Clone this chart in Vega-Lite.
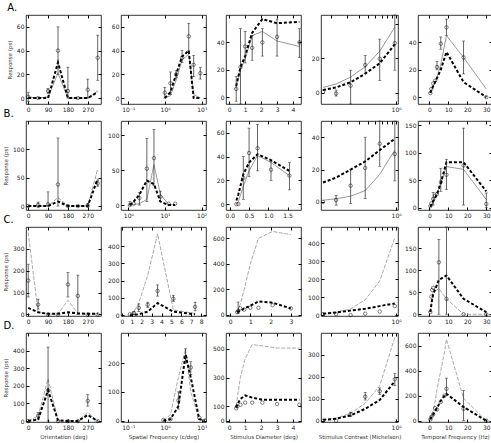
{
"$schema":"https://vega.github.io/schema/vega-lite/v6.json",
"padding":{"left":3,"top":2,"right":2,"bottom":3},
"config":{"font":"DejaVu Sans","view":{"stroke":"black","strokeWidth":0.8},
"axis":{"domain":false,"grid":false,"tickSize":-3,"tickColor":"black","labelFontSize":6,"labelColor":"#222","labelPadding":5,"labelFlush":false,"labelOverlap":false,"titleFontSize":5.5,"titleFontWeight":"normal","titleColor":"#333","titlePadding":4},
"title":{"fontSize":10,"fontWeight":"normal","anchor":"start","offset":2}},
"data":{"values":[
{"p":"A1","x":0,"obs":1,"lo":-3,"hi":5,"m1":1,"m2":0},
{"p":"A1","x":45,"obs":0,"m1":0,"m2":0},
{"p":"A1","x":90,"obs":6,"lo":4,"hi":8,"m1":1,"m2":0},
{"p":"A1","x":135,"obs":40,"lo":20,"hi":60,"m1":21,"m2":30},
{"p":"A1","x":180,"obs":6,"lo":0,"hi":26,"m1":0,"m2":0},
{"p":"A1","x":225,"obs":0,"m1":0,"m2":0},
{"p":"A1","x":270,"obs":7,"lo":0,"hi":16,"m1":0,"m2":0},
{"p":"A1","x":315,"obs":34,"lo":15,"hi":53,"m1":6,"m2":5},
{"p":"A2","x":0.98,"obs":4.5,"lo":0,"hi":9,"m1":0,"m2":0},
{"p":"A2","x":1.4,"obs":12.5,"lo":3,"hi":22,"m1":2,"m2":5},
{"p":"A2","x":2.0,"obs":20,"lo":17,"hi":23,"m1":15,"m2":20},
{"p":"A2","x":2.9,"obs":34,"lo":30,"hi":40,"m1":32,"m2":35},
{"p":"A2","x":4.4,"obs":52,"lo":40,"hi":63,"m1":37,"m2":40},
{"p":"A2","x":6.0,"obs":28,"lo":18,"hi":36,"m1":3,"m2":0},
{"p":"A2","x":9.1,"obs":21,"lo":16,"hi":26,"m1":0,"m2":0},
{"p":"A3","x":0.44,"obs":6,"lo":-3,"hi":15,"m1":8,"m2":8},
{"p":"A3","x":0.71,"obs":22,"lo":-5,"hi":50,"m1":20,"m2":22},
{"p":"A3","x":1.0,"obs":37,"lo":25,"hi":48,"m1":28,"m2":30},
{"p":"A3","x":1.44,"obs":36,"lo":27,"hi":45,"m1":45,"m2":47},
{"p":"A3","x":2.08,"obs":40,"lo":30,"hi":50,"m1":48,"m2":57},
{"p":"A3","x":3.0,"obs":44,"lo":30,"hi":57,"m1":41,"m2":54},
{"p":"A3","x":4.4,"obs":40,"lo":29,"hi":50,"m1":37,"m2":55},
{"p":"A4","x":0.166,"obs":0.5,"m1":3,"m2":1.5},
{"p":"A4","x":0.229,"obs":-0.5,"lo":-2,"hi":1.5,"m1":5,"m2":3},
{"p":"A4","x":0.327,"obs":4,"lo":-6.6,"hi":13,"m1":9,"m2":6},
{"p":"A4","x":0.468,"obs":16,"lo":11,"hi":21.5,"m1":15,"m2":11},
{"p":"A4","x":0.668,"obs":19.6,"lo":7,"hi":31,"m1":24,"m2":17},
{"p":"A4","x":0.968,"obs":28.7,"lo":13,"hi":45,"m1":38,"m2":28},
{"p":"A5","x":0.5,"obs":3,"m1":3,"m2":3},
{"p":"A5","x":1,"obs":6,"m1":5,"m2":5},
{"p":"A5","x":2,"obs":10,"m1":8,"m2":8},
{"p":"A5","x":3,"obs":12,"m1":11,"m2":11},
{"p":"A5","x":4,"obs":22,"lo":20,"hi":26,"m1":14,"m2":14},
{"p":"A5","x":6,"obs":39,"lo":35,"hi":44,"m1":24,"m2":20},
{"p":"A5","x":9,"obs":51,"lo":45,"hi":57,"m1":45,"m2":33},
{"p":"A5","x":18,"obs":29,"lo":17,"hi":41,"m1":29,"m2":11},
{"p":"A5","x":30,"obs":0,"m1":6,"m2":0},
{"p":"B1","x":0,"obs":0,"m1":0,"m2":0},
{"p":"B1","x":45,"obs":2,"lo":-3,"hi":7,"m1":0,"m2":0},
{"p":"B1","x":90,"obs":3,"lo":0,"hi":25,"m1":0,"m2":0},
{"p":"B1","x":135,"obs":38,"lo":0,"hi":120,"m1":15,"m2":8},
{"p":"B1","x":180,"obs":0,"m1":0,"m2":0},
{"p":"B1","x":225,"obs":0,"m1":0,"m2":0},
{"p":"B1","x":270,"obs":1,"lo":-2,"hi":5,"m1":0,"m2":0},
{"p":"B1","x":315,"obs":40,"lo":35,"hi":45,"m1":65,"m2":48},
{"p":"B2","x":1.1,"obs":0,"lo":0,"hi":5,"m1":0,"m2":0},
{"p":"B2","x":1.4,"obs":2,"m1":1,"m2":5},
{"p":"B2","x":2.0,"obs":10,"lo":0,"hi":18,"m1":2,"m2":15},
{"p":"B2","x":3.2,"obs":52,"lo":5,"hi":95,"m1":8,"m2":35},
{"p":"B2","x":5.0,"obs":67,"lo":28,"hi":108,"m1":58,"m2":30},
{"p":"B2","x":7.5,"obs":12,"lo":5,"hi":20,"m1":15,"m2":5},
{"p":"B2","x":12.6,"obs":2,"m1":1,"m2":0},
{"p":"B2","x":19,"obs":2,"m1":0,"m2":0},
{"p":"B3","x":0.17,"obs":0,"m1":0,"m2":3},
{"p":"B3","x":0.22,"obs":0,"m1":2,"m2":8},
{"p":"B3","x":0.35,"obs":22,"lo":4,"hi":40,"m1":15,"m2":25},
{"p":"B3","x":0.5,"obs":43,"lo":23,"hi":64,"m1":28,"m2":35},
{"p":"B3","x":0.72,"obs":47,"lo":28,"hi":67,"m1":41,"m2":42},
{"p":"B3","x":1.07,"obs":29,"lo":20,"hi":36,"m1":35,"m2":37},
{"p":"B3","x":1.55,"obs":24,"lo":12,"hi":35,"m1":24,"m2":28},
{"p":"B4","x":0.166,"obs":0,"m1":1,"m2":12},
{"p":"B4","x":0.229,"obs":1.2,"lo":-2,"hi":4,"m1":2,"m2":15},
{"p":"B4","x":0.327,"obs":10,"lo":-1,"hi":20,"m1":3.5,"m2":20},
{"p":"B4","x":0.468,"obs":21,"lo":2,"hi":40,"m1":7,"m2":25},
{"p":"B4","x":0.668,"obs":36,"lo":22,"hi":50,"m1":17,"m2":32},
{"p":"B4","x":0.968,"obs":29.6,"lo":13,"hi":50,"m1":32,"m2":39},
{"p":"B5","x":0.5,"obs":3,"m1":2,"m2":2},
{"p":"B5","x":1,"obs":8,"m1":5,"m2":5},
{"p":"B5","x":2,"obs":16,"lo":5,"hi":28,"m1":12,"m2":12},
{"p":"B5","x":3,"obs":22,"m1":18,"m2":18},
{"p":"B5","x":4,"obs":25,"m1":24,"m2":25},
{"p":"B5","x":6,"obs":47,"lo":30,"hi":72,"m1":45,"m2":45},
{"p":"B5","x":9,"obs":60,"lo":33,"hi":88,"m1":75,"m2":83},
{"p":"B5","x":18,"obs":77,"lo":5,"hi":145,"m1":70,"m2":83},
{"p":"B5","x":30,"obs":7,"lo":0,"hi":27,"m1":15,"m2":30},
{"p":"C1","x":0,"obs":155,"lo":80,"hi":230,"m1":375,"m2":30},
{"p":"C1","x":45,"obs":45,"lo":25,"hi":70,"m1":10,"m2":10},
{"p":"C1","x":90,"obs":0,"m1":2,"m2":3},
{"p":"C1","x":135,"obs":0,"m1":2,"m2":3},
{"p":"C1","x":180,"obs":137,"lo":80,"hi":192,"m1":65,"m2":10},
{"p":"C1","x":225,"obs":85,"lo":0,"hi":180,"m1":5,"m2":5},
{"p":"C1","x":270,"obs":0,"m1":3,"m2":3},
{"p":"C1","x":315,"obs":0,"m1":3,"m2":3},
{"p":"C2","x":0.8,"obs":5,"m1":5,"m2":0},
{"p":"C2","x":1.2,"obs":12,"lo":5,"hi":20,"m1":20,"m2":2},
{"p":"C2","x":1.7,"obs":42,"lo":20,"hi":65,"m1":70,"m2":5},
{"p":"C2","x":2.6,"obs":60,"lo":45,"hi":75,"m1":230,"m2":20},
{"p":"C2","x":3.6,"obs":140,"lo":110,"hi":175,"m1":470,"m2":70},
{"p":"C2","x":5.2,"obs":95,"lo":80,"hi":115,"m1":30,"m2":20},
{"p":"C2","x":7.4,"obs":48,"lo":25,"hi":75,"m1":10,"m2":5},
{"p":"C3","x":0.35,"obs":20,"m1":20,"m2":20},
{"p":"C3","x":0.4,"obs":30,"lo":10,"hi":100,"m1":40,"m2":25},
{"p":"C3","x":0.5,"obs":50,"m1":80,"m2":30},
{"p":"C3","x":0.7,"obs":40,"m1":200,"m2":50},
{"p":"C3","x":1.0,"obs":55,"m1":400,"m2":70},
{"p":"C3","x":1.4,"obs":55,"m1":600,"m2":105},
{"p":"C3","x":2.1,"obs":75,"m1":655,"m2":95},
{"p":"C3","x":3.0,"obs":50,"m1":630,"m2":50},
{"p":"C4","x":0.166,"obs":5,"m1":5,"m2":8},
{"p":"C4","x":0.229,"obs":5,"m1":15,"m2":15},
{"p":"C4","x":0.327,"obs":0,"m1":35,"m2":25},
{"p":"C4","x":0.468,"obs":8,"m1":85,"m2":35},
{"p":"C4","x":0.668,"obs":20,"m1":190,"m2":50},
{"p":"C4","x":0.968,"obs":50,"m1":430,"m2":65},
{"p":"C5","x":0.5,"obs":5,"m1":5,"m2":5},
{"p":"C5","x":1,"obs":40,"m1":25,"m2":20},
{"p":"C5","x":1.5,"obs":55,"m1":40,"m2":35},
{"p":"C5","x":2,"obs":60,"m1":50,"m2":45},
{"p":"C5","x":5,"obs":118,"lo":0,"hi":170,"m1":58,"m2":78},
{"p":"C5","x":9,"obs":35,"lo":0,"hi":198,"m1":35,"m2":88},
{"p":"C5","x":18,"obs":0,"m1":0,"m2":35},
{"p":"C5","x":30,"obs":0,"m1":0,"m2":5},
{"p":"D1","x":0,"obs":0,"m1":0,"m2":0},
{"p":"D1","x":45,"obs":30,"lo":10,"hi":50,"m1":30,"m2":10},
{"p":"D1","x":90,"obs":175,"lo":0,"hi":420,"m1":240,"m2":175},
{"p":"D1","x":135,"obs":0,"m1":5,"m2":5},
{"p":"D1","x":180,"obs":0,"m1":0,"m2":0},
{"p":"D1","x":225,"obs":0,"m1":0,"m2":0},
{"p":"D1","x":270,"obs":115,"lo":85,"hi":150,"m1":50,"m2":35},
{"p":"D1","x":315,"obs":0,"m1":0,"m2":0},
{"p":"D2","x":0.9,"obs":2,"m1":0,"m2":0},
{"p":"D2","x":1.4,"obs":5,"m1":20,"m2":5},
{"p":"D2","x":2.3,"obs":70,"lo":40,"hi":100,"m1":150,"m2":50},
{"p":"D2","x":3.6,"obs":220,"lo":200,"hi":250,"m1":250,"m2":230},
{"p":"D2","x":5.0,"obs":185,"lo":160,"hi":205,"m1":100,"m2":150},
{"p":"D2","x":8.5,"obs":10,"m1":5,"m2":5},
{"p":"D2","x":12,"obs":0,"m1":0,"m2":0},
{"p":"D3","x":0.44,"obs":85,"m1":100,"m2":90},
{"p":"D3","x":0.5,"obs":100,"m1":150,"m2":110},
{"p":"D3","x":0.7,"obs":110,"m1":300,"m2":150},
{"p":"D3","x":1.0,"obs":125,"m1":430,"m2":175},
{"p":"D3","x":1.44,"obs":125,"m1":530,"m2":160},
{"p":"D3","x":2.08,"obs":125,"m1":520,"m2":145},
{"p":"D3","x":3.0,"obs":115,"m1":505,"m2":145},
{"p":"D3","x":4.4,"obs":110,"m1":505,"m2":145},
{"p":"D4","x":0.166,"obs":0,"m1":5,"m2":5},
{"p":"D4","x":0.229,"obs":0,"m1":12,"m2":10},
{"p":"D4","x":0.327,"obs":30,"lo":20,"hi":40,"m1":35,"m2":25},
{"p":"D4","x":0.468,"obs":110,"lo":95,"hi":130,"m1":80,"m2":55},
{"p":"D4","x":0.668,"obs":135,"lo":120,"hi":150,"m1":160,"m2":95},
{"p":"D4","x":0.968,"obs":190,"lo":160,"hi":215,"m1":380,"m2":180},
{"p":"D5","x":0.5,"obs":10,"m1":10,"m2":10},
{"p":"D5","x":1,"obs":30,"m1":30,"m2":30},
{"p":"D5","x":2,"obs":50,"m1":80,"m2":50},
{"p":"D5","x":3,"obs":100,"m1":150,"m2":75},
{"p":"D5","x":4,"obs":90,"m1":250,"m2":100},
{"p":"D5","x":6,"obs":150,"m1":400,"m2":160},
{"p":"D5","x":8,"obs":200,"m1":550,"m2":200},
{"p":"D5","x":9,"obs":255,"lo":200,"hi":340,"m1":650,"m2":215},
{"p":"D5","x":18,"obs":95,"lo":0,"hi":240,"m1":180,"m2":110},
{"p":"D5","x":30,"obs":0,"m1":0,"m2":0}
]},
"columns":5,
"bounds":"flush",
"align":"each",
"spacing":{"row":17,"column":20},
"concat":[
{"title":{"text":"A."},"width":75,"height":89,"transform":[{"filter":"datum.p==='A1'"}],"resolve":{"axis":{"x":"independent","y":"independent"}},
"encoding":{"x":{"field":"x","type":"quantitative","scale":{"domain":[-10,330],"nice":false,"zero":false},"axis":null}},
"layer":[
{"mark":{"type":"line","color":"#9a9a9a","strokeWidth":1},"encoding":{"x":{"field":"x","type":"quantitative","axis":{"values":[0,90,180,270],"title":null}},"y":{"field":"m1","type":"quantitative","scale":{"domain":[-5,70],"nice":false,"zero":false},"axis":{"values":[0,20,40,60],"title":"Response (ps)"}}}},
{"mark":{"type":"line","color":"black","strokeWidth":2,"strokeDash":[3,2]},"encoding":{"x":{"field":"x","type":"quantitative","axis":{"orient":"top","values":[0,90,180,270],"labels":false,"title":null}},"y":{"field":"m2","type":"quantitative","axis":{"orient":"right","values":[0,20,40,60],"labels":false,"title":null}}}},
{"transform":[{"filter":"isValid(datum.lo)"}],"layer":[
{"mark":{"type":"rule","color":"#222","strokeWidth":0.7},"encoding":{"y":{"field":"lo","type":"quantitative","axis":null},"y2":{"field":"hi"}}},
{"mark":{"type":"tick","orient":"horizontal","color":"#222","size":3,"thickness":0.7},"encoding":{"y":{"field":"lo","type":"quantitative","axis":null}}},
{"mark":{"type":"tick","orient":"horizontal","color":"#222","size":3,"thickness":0.7},"encoding":{"y":{"field":"hi","type":"quantitative","axis":null}}}]},
{"mark":{"type":"point","shape":"circle","filled":false,"size":12,"color":"black","strokeWidth":0.7},"encoding":{"y":{"field":"obs","type":"quantitative","axis":null}}}]},
{"width":85,"height":89,"transform":[{"filter":"datum.p==='A2'"}],"resolve":{"axis":{"x":"independent","y":"independent"}},
"encoding":{"x":{"field":"x","type":"quantitative","scale":{"type":"log","domain":[0.063,13],"nice":false},"axis":null}},
"layer":[
{"mark":{"type":"line","color":"#9a9a9a","strokeWidth":1},"encoding":{"x":{"field":"x","type":"quantitative","axis":{"values":[0.1,1,10],"title":null,"labelExpr":"'10' + replace(replace(replace(replace('' + round(log(datum.value)/LN10), '-', '⁻'), '0', '⁰'), '1', '¹'), '2', '²')"}},"y":{"field":"m1","type":"quantitative","scale":{"domain":[-5,70],"nice":false,"zero":false},"axis":{"values":[0,20,40,60],"title":null}}}},
{"mark":{"type":"line","color":"black","strokeWidth":2,"strokeDash":[3,2]},"encoding":{"x":{"field":"x","type":"quantitative","axis":{"orient":"top","values":[0.1,1,10],"labels":false,"title":null}},"y":{"field":"m2","type":"quantitative","axis":{"orient":"right","values":[0,20,40,60],"labels":false,"title":null}}}},
{"transform":[{"filter":"isValid(datum.lo)"}],"layer":[
{"mark":{"type":"rule","color":"#222","strokeWidth":0.7},"encoding":{"y":{"field":"lo","type":"quantitative","axis":null},"y2":{"field":"hi"}}},
{"mark":{"type":"tick","orient":"horizontal","color":"#222","size":3,"thickness":0.7},"encoding":{"y":{"field":"lo","type":"quantitative","axis":null}}},
{"mark":{"type":"tick","orient":"horizontal","color":"#222","size":3,"thickness":0.7},"encoding":{"y":{"field":"hi","type":"quantitative","axis":null}}}]},
{"mark":{"type":"point","shape":"circle","filled":false,"size":12,"color":"black","strokeWidth":0.7},"encoding":{"y":{"field":"obs","type":"quantitative","axis":null}}}]},
{"width":75,"height":89,"transform":[{"filter":"datum.p==='A3'"}],"resolve":{"axis":{"x":"independent","y":"independent"}},
"encoding":{"x":{"field":"x","type":"quantitative","scale":{"domain":[-0.2,4.5],"nice":false,"zero":false},"axis":null}},
"layer":[
{"mark":{"type":"line","color":"#9a9a9a","strokeWidth":1},"encoding":{"x":{"field":"x","type":"quantitative","axis":{"values":[0,1,2,3,4],"title":null}},"y":{"field":"m1","type":"quantitative","scale":{"domain":[-5,60],"nice":false,"zero":false},"axis":{"values":[0,20,40],"title":null}}}},
{"mark":{"type":"line","color":"black","strokeWidth":2,"strokeDash":[3,2]},"encoding":{"x":{"field":"x","type":"quantitative","axis":{"orient":"top","values":[0,1,2,3,4],"labels":false,"title":null}},"y":{"field":"m2","type":"quantitative","axis":{"orient":"right","values":[0,20,40],"labels":false,"title":null}}}},
{"transform":[{"filter":"isValid(datum.lo)"}],"layer":[
{"mark":{"type":"rule","color":"#222","strokeWidth":0.7},"encoding":{"y":{"field":"lo","type":"quantitative","axis":null},"y2":{"field":"hi"}}},
{"mark":{"type":"tick","orient":"horizontal","color":"#222","size":3,"thickness":0.7},"encoding":{"y":{"field":"lo","type":"quantitative","axis":null}}},
{"mark":{"type":"tick","orient":"horizontal","color":"#222","size":3,"thickness":0.7},"encoding":{"y":{"field":"hi","type":"quantitative","axis":null}}}]},
{"mark":{"type":"point","shape":"circle","filled":false,"size":12,"color":"black","strokeWidth":0.7},"encoding":{"y":{"field":"obs","type":"quantitative","axis":null}}}]},
{"width":77,"height":89,"transform":[{"filter":"datum.p==='A4'"}],"resolve":{"axis":{"x":"independent","y":"independent"}},
"encoding":{"x":{"field":"x","type":"quantitative","scale":{"type":"log","domain":[0.158,1.047],"nice":false},"axis":null}},
"layer":[
{"mark":{"type":"line","color":"#9a9a9a","strokeWidth":1},"encoding":{"x":{"field":"x","type":"quantitative","axis":{"values":[1],"title":null,"labelExpr":"'10⁰'"}},"y":{"field":"m1","type":"quantitative","scale":{"domain":[-6.6,45],"nice":false,"zero":false},"axis":{"values":[0,20],"title":null}}}},
{"mark":{"type":"line","color":"black","strokeWidth":2,"strokeDash":[3,2]},"encoding":{"x":{"field":"x","type":"quantitative","axis":{"orient":"top","values":[0.2,0.3,0.4,0.5,0.6,0.7,0.8,0.9,1],"labels":false,"title":null}},"y":{"field":"m2","type":"quantitative","axis":{"orient":"right","values":[0,20,40],"labels":false,"title":null}}}},
{"transform":[{"filter":"isValid(datum.lo)"}],"layer":[
{"mark":{"type":"rule","color":"#222","strokeWidth":0.7},"encoding":{"y":{"field":"lo","type":"quantitative","axis":null},"y2":{"field":"hi"}}},
{"mark":{"type":"tick","orient":"horizontal","color":"#222","size":3,"thickness":0.7},"encoding":{"y":{"field":"lo","type":"quantitative","axis":null}}},
{"mark":{"type":"tick","orient":"horizontal","color":"#222","size":3,"thickness":0.7},"encoding":{"y":{"field":"hi","type":"quantitative","axis":null}}}]},
{"mark":{"type":"point","shape":"circle","filled":false,"size":12,"color":"black","strokeWidth":0.7},"encoding":{"y":{"field":"obs","type":"quantitative","axis":null}}}]},
{"width":74,"height":89,"transform":[{"filter":"datum.p==='A5'"}],"resolve":{"axis":{"x":"independent","y":"independent"}},
"encoding":{"x":{"field":"x","type":"quantitative","scale":{"domain":[-6,33],"nice":false,"zero":false},"axis":null}},
"layer":[
{"mark":{"type":"line","color":"#9a9a9a","strokeWidth":1},"encoding":{"x":{"field":"x","type":"quantitative","axis":{"values":[0,10,20,30],"title":null}},"y":{"field":"m1","type":"quantitative","scale":{"domain":[-5,60],"nice":false,"zero":false},"axis":{"values":[0,20,40],"title":null}}}},
{"mark":{"type":"line","color":"black","strokeWidth":2,"strokeDash":[3,2]},"encoding":{"x":{"field":"x","type":"quantitative","axis":{"orient":"top","values":[0,10,20,30],"labels":false,"title":null}},"y":{"field":"m2","type":"quantitative","axis":{"orient":"right","values":[0,20,40],"labels":false,"title":null}}}},
{"transform":[{"filter":"isValid(datum.lo)"}],"layer":[
{"mark":{"type":"rule","color":"#222","strokeWidth":0.7},"encoding":{"y":{"field":"lo","type":"quantitative","axis":null},"y2":{"field":"hi"}}},
{"mark":{"type":"tick","orient":"horizontal","color":"#222","size":3,"thickness":0.7},"encoding":{"y":{"field":"lo","type":"quantitative","axis":null}}},
{"mark":{"type":"tick","orient":"horizontal","color":"#222","size":3,"thickness":0.7},"encoding":{"y":{"field":"hi","type":"quantitative","axis":null}}}]},
{"mark":{"type":"point","shape":"circle","filled":false,"size":12,"color":"black","strokeWidth":0.7},"encoding":{"y":{"field":"obs","type":"quantitative","axis":null}}}]},

{"title":{"text":"B."},"width":75,"height":89,"transform":[{"filter":"datum.p==='B1'"}],"resolve":{"axis":{"x":"independent","y":"independent"}},
"encoding":{"x":{"field":"x","type":"quantitative","scale":{"domain":[-10,330],"nice":false,"zero":false},"axis":null}},
"layer":[
{"mark":{"type":"line","color":"#9a9a9a","strokeWidth":1,"strokeDash":[4,1.5]},"encoding":{"x":{"field":"x","type":"quantitative","axis":{"values":[0,90,180,270],"title":null}},"y":{"field":"m1","type":"quantitative","scale":{"domain":[-7,150],"nice":false,"zero":false},"axis":{"values":[0,50,100],"title":"Response (ps)"}}}},
{"mark":{"type":"line","color":"black","strokeWidth":2,"strokeDash":[3,2]},"encoding":{"x":{"field":"x","type":"quantitative","axis":{"orient":"top","values":[0,90,180,270],"labels":false,"title":null}},"y":{"field":"m2","type":"quantitative","axis":{"orient":"right","values":[0,50,100],"labels":false,"title":null}}}},
{"transform":[{"filter":"isValid(datum.lo)"}],"layer":[
{"mark":{"type":"rule","color":"#222","strokeWidth":0.7},"encoding":{"y":{"field":"lo","type":"quantitative","axis":null},"y2":{"field":"hi"}}},
{"mark":{"type":"tick","orient":"horizontal","color":"#222","size":3,"thickness":0.7},"encoding":{"y":{"field":"lo","type":"quantitative","axis":null}}},
{"mark":{"type":"tick","orient":"horizontal","color":"#222","size":3,"thickness":0.7},"encoding":{"y":{"field":"hi","type":"quantitative","axis":null}}}]},
{"mark":{"type":"point","shape":"circle","filled":false,"size":12,"color":"black","strokeWidth":0.7},"encoding":{"y":{"field":"obs","type":"quantitative","axis":null}}}]},
{"width":85,"height":89,"transform":[{"filter":"datum.p==='B2'"}],"resolve":{"axis":{"x":"independent","y":"independent"}},
"encoding":{"x":{"field":"x","type":"quantitative","scale":{"type":"log","domain":[0.63,132],"nice":false},"axis":null}},
"layer":[
{"mark":{"type":"line","color":"#9a9a9a","strokeWidth":1},"encoding":{"x":{"field":"x","type":"quantitative","axis":{"values":[1,10,100],"title":null,"labelExpr":"'10' + replace(replace(replace(replace('' + round(log(datum.value)/LN10), '-', '⁻'), '0', '⁰'), '1', '¹'), '2', '²')"}},"y":{"field":"m1","type":"quantitative","scale":{"domain":[-7,120],"nice":false,"zero":false},"axis":{"values":[0,50,100],"title":null}}}},
{"mark":{"type":"line","color":"black","strokeWidth":2,"strokeDash":[3,2]},"encoding":{"x":{"field":"x","type":"quantitative","axis":{"orient":"top","values":[1,10,100],"labels":false,"title":null}},"y":{"field":"m2","type":"quantitative","axis":{"orient":"right","values":[0,50,100],"labels":false,"title":null}}}},
{"transform":[{"filter":"isValid(datum.lo)"}],"layer":[
{"mark":{"type":"rule","color":"#222","strokeWidth":0.7},"encoding":{"y":{"field":"lo","type":"quantitative","axis":null},"y2":{"field":"hi"}}},
{"mark":{"type":"tick","orient":"horizontal","color":"#222","size":3,"thickness":0.7},"encoding":{"y":{"field":"lo","type":"quantitative","axis":null}}},
{"mark":{"type":"tick","orient":"horizontal","color":"#222","size":3,"thickness":0.7},"encoding":{"y":{"field":"hi","type":"quantitative","axis":null}}}]},
{"mark":{"type":"point","shape":"circle","filled":false,"size":12,"color":"black","strokeWidth":0.7},"encoding":{"y":{"field":"obs","type":"quantitative","axis":null}}}]},
{"width":75,"height":89,"transform":[{"filter":"datum.p==='B3'"}],"resolve":{"axis":{"x":"independent","y":"independent"}},
"encoding":{"x":{"field":"x","type":"quantitative","scale":{"domain":[-0.1,1.85],"nice":false,"zero":false},"axis":null}},
"layer":[
{"mark":{"type":"line","color":"#9a9a9a","strokeWidth":1},"encoding":{"x":{"field":"x","type":"quantitative","axis":{"values":[0,0.5,1,1.5],"format":".1f","title":null}},"y":{"field":"m1","type":"quantitative","scale":{"domain":[-5,70],"nice":false,"zero":false},"axis":{"values":[0,20,40,60],"title":null}}}},
{"mark":{"type":"line","color":"black","strokeWidth":2,"strokeDash":[3,2]},"encoding":{"x":{"field":"x","type":"quantitative","axis":{"orient":"top","values":[0,0.5,1,1.5],"labels":false,"title":null}},"y":{"field":"m2","type":"quantitative","axis":{"orient":"right","values":[0,20,40,60],"labels":false,"title":null}}}},
{"transform":[{"filter":"isValid(datum.lo)"}],"layer":[
{"mark":{"type":"rule","color":"#222","strokeWidth":0.7},"encoding":{"y":{"field":"lo","type":"quantitative","axis":null},"y2":{"field":"hi"}}},
{"mark":{"type":"tick","orient":"horizontal","color":"#222","size":3,"thickness":0.7},"encoding":{"y":{"field":"lo","type":"quantitative","axis":null}}},
{"mark":{"type":"tick","orient":"horizontal","color":"#222","size":3,"thickness":0.7},"encoding":{"y":{"field":"hi","type":"quantitative","axis":null}}}]},
{"mark":{"type":"point","shape":"circle","filled":false,"size":12,"color":"black","strokeWidth":0.7},"encoding":{"y":{"field":"obs","type":"quantitative","axis":null}}}]},
{"width":77,"height":89,"transform":[{"filter":"datum.p==='B4'"}],"resolve":{"axis":{"x":"independent","y":"independent"}},
"encoding":{"x":{"field":"x","type":"quantitative","scale":{"type":"log","domain":[0.158,1.047],"nice":false},"axis":null}},
"layer":[
{"mark":{"type":"line","color":"#9a9a9a","strokeWidth":1},"encoding":{"x":{"field":"x","type":"quantitative","axis":{"values":[1],"title":null,"labelExpr":"'10⁰'"}},"y":{"field":"m1","type":"quantitative","scale":{"domain":[-5,50],"nice":false,"zero":false},"axis":{"values":[0,20,40],"title":null}}}},
{"mark":{"type":"line","color":"black","strokeWidth":2,"strokeDash":[3,2]},"encoding":{"x":{"field":"x","type":"quantitative","axis":{"orient":"top","values":[0.2,0.3,0.4,0.5,0.6,0.7,0.8,0.9,1],"labels":false,"title":null}},"y":{"field":"m2","type":"quantitative","axis":{"orient":"right","values":[0,20,40],"labels":false,"title":null}}}},
{"transform":[{"filter":"isValid(datum.lo)"}],"layer":[
{"mark":{"type":"rule","color":"#222","strokeWidth":0.7},"encoding":{"y":{"field":"lo","type":"quantitative","axis":null},"y2":{"field":"hi"}}},
{"mark":{"type":"tick","orient":"horizontal","color":"#222","size":3,"thickness":0.7},"encoding":{"y":{"field":"lo","type":"quantitative","axis":null}}},
{"mark":{"type":"tick","orient":"horizontal","color":"#222","size":3,"thickness":0.7},"encoding":{"y":{"field":"hi","type":"quantitative","axis":null}}}]},
{"mark":{"type":"point","shape":"circle","filled":false,"size":12,"color":"black","strokeWidth":0.7},"encoding":{"y":{"field":"obs","type":"quantitative","axis":null}}}]},
{"width":74,"height":89,"transform":[{"filter":"datum.p==='B5'"}],"resolve":{"axis":{"x":"independent","y":"independent"}},
"encoding":{"x":{"field":"x","type":"quantitative","scale":{"domain":[-6,33],"nice":false,"zero":false},"axis":null}},
"layer":[
{"mark":{"type":"line","color":"#9a9a9a","strokeWidth":1},"encoding":{"x":{"field":"x","type":"quantitative","axis":{"values":[0,10,20,30],"title":null}},"y":{"field":"m1","type":"quantitative","scale":{"domain":[-4,158],"nice":false,"zero":false},"axis":{"values":[0,50,100,150],"title":null}}}},
{"mark":{"type":"line","color":"black","strokeWidth":2,"strokeDash":[3,2]},"encoding":{"x":{"field":"x","type":"quantitative","axis":{"orient":"top","values":[0,10,20,30],"labels":false,"title":null}},"y":{"field":"m2","type":"quantitative","axis":{"orient":"right","values":[0,50,100,150],"labels":false,"title":null}}}},
{"transform":[{"filter":"isValid(datum.lo)"}],"layer":[
{"mark":{"type":"rule","color":"#222","strokeWidth":0.7},"encoding":{"y":{"field":"lo","type":"quantitative","axis":null},"y2":{"field":"hi"}}},
{"mark":{"type":"tick","orient":"horizontal","color":"#222","size":3,"thickness":0.7},"encoding":{"y":{"field":"lo","type":"quantitative","axis":null}}},
{"mark":{"type":"tick","orient":"horizontal","color":"#222","size":3,"thickness":0.7},"encoding":{"y":{"field":"hi","type":"quantitative","axis":null}}}]},
{"mark":{"type":"point","shape":"circle","filled":false,"size":12,"color":"black","strokeWidth":0.7},"encoding":{"y":{"field":"obs","type":"quantitative","axis":null}}}]},

{"title":{"text":"C."},"width":75,"height":89,"transform":[{"filter":"datum.p==='C1'"}],"resolve":{"axis":{"x":"independent","y":"independent"}},
"encoding":{"x":{"field":"x","type":"quantitative","scale":{"domain":[-10,330],"nice":false,"zero":false},"axis":null}},
"layer":[
{"mark":{"type":"line","color":"#aaaaaa","strokeWidth":1,"strokeDash":[4,1.5]},"encoding":{"x":{"field":"x","type":"quantitative","axis":{"values":[0,90,180,270],"title":null}},"y":{"field":"m1","type":"quantitative","scale":{"domain":[-7,400],"nice":false,"zero":false},"axis":{"values":[0,100,200,300],"title":"Response (ps)"}}}},
{"mark":{"type":"line","color":"black","strokeWidth":2,"strokeDash":[3,2]},"encoding":{"x":{"field":"x","type":"quantitative","axis":{"orient":"top","values":[0,90,180,270],"labels":false,"title":null}},"y":{"field":"m2","type":"quantitative","axis":{"orient":"right","values":[0,100,200,300],"labels":false,"title":null}}}},
{"transform":[{"filter":"isValid(datum.lo)"}],"layer":[
{"mark":{"type":"rule","color":"#222","strokeWidth":0.7},"encoding":{"y":{"field":"lo","type":"quantitative","axis":null},"y2":{"field":"hi"}}},
{"mark":{"type":"tick","orient":"horizontal","color":"#222","size":3,"thickness":0.7},"encoding":{"y":{"field":"lo","type":"quantitative","axis":null}}},
{"mark":{"type":"tick","orient":"horizontal","color":"#222","size":3,"thickness":0.7},"encoding":{"y":{"field":"hi","type":"quantitative","axis":null}}}]},
{"mark":{"type":"point","shape":"circle","filled":false,"size":12,"color":"black","strokeWidth":0.7},"encoding":{"y":{"field":"obs","type":"quantitative","axis":null}}}]},
{"width":85,"height":89,"transform":[{"filter":"datum.p==='C2'"}],"resolve":{"axis":{"x":"independent","y":"independent"}},
"encoding":{"x":{"field":"x","type":"quantitative","scale":{"domain":[-0.1,8.5],"nice":false,"zero":false},"axis":null}},
"layer":[
{"mark":{"type":"line","color":"#aaaaaa","strokeWidth":1,"strokeDash":[4,1.5]},"encoding":{"x":{"field":"x","type":"quantitative","axis":{"values":[0,1,2,3,4,5,6,7,8],"title":null}},"y":{"field":"m1","type":"quantitative","scale":{"domain":[-5,510],"nice":false,"zero":false},"axis":{"values":[0,100,200,300,400],"title":null}}}},
{"mark":{"type":"line","color":"black","strokeWidth":2,"strokeDash":[3,2]},"encoding":{"x":{"field":"x","type":"quantitative","axis":{"orient":"top","values":[0,1,2,3,4,5,6,7,8],"labels":false,"title":null}},"y":{"field":"m2","type":"quantitative","axis":{"orient":"right","values":[0,100,200,300,400],"labels":false,"title":null}}}},
{"transform":[{"filter":"isValid(datum.lo)"}],"layer":[
{"mark":{"type":"rule","color":"#222","strokeWidth":0.7},"encoding":{"y":{"field":"lo","type":"quantitative","axis":null},"y2":{"field":"hi"}}},
{"mark":{"type":"tick","orient":"horizontal","color":"#222","size":3,"thickness":0.7},"encoding":{"y":{"field":"lo","type":"quantitative","axis":null}}},
{"mark":{"type":"tick","orient":"horizontal","color":"#222","size":3,"thickness":0.7},"encoding":{"y":{"field":"hi","type":"quantitative","axis":null}}}]},
{"mark":{"type":"point","shape":"circle","filled":false,"size":12,"color":"black","strokeWidth":0.7},"encoding":{"y":{"field":"obs","type":"quantitative","axis":null}}}]},
{"width":75,"height":89,"transform":[{"filter":"datum.p==='C3'"}],"resolve":{"axis":{"x":"independent","y":"independent"}},
"encoding":{"x":{"field":"x","type":"quantitative","scale":{"domain":[-0.2,3.5],"nice":false,"zero":false},"axis":null}},
"layer":[
{"mark":{"type":"line","color":"#aaaaaa","strokeWidth":1,"strokeDash":[4,1.5]},"encoding":{"x":{"field":"x","type":"quantitative","axis":{"values":[0,1,2,3],"title":null}},"y":{"field":"m1","type":"quantitative","scale":{"domain":[-10,690],"nice":false,"zero":false},"axis":{"values":[0,200,400,600],"title":null}}}},
{"mark":{"type":"line","color":"black","strokeWidth":2,"strokeDash":[3,2]},"encoding":{"x":{"field":"x","type":"quantitative","axis":{"orient":"top","values":[0,1,2,3],"labels":false,"title":null}},"y":{"field":"m2","type":"quantitative","axis":{"orient":"right","values":[0,200,400,600],"labels":false,"title":null}}}},
{"transform":[{"filter":"isValid(datum.lo)"}],"layer":[
{"mark":{"type":"rule","color":"#222","strokeWidth":0.7},"encoding":{"y":{"field":"lo","type":"quantitative","axis":null},"y2":{"field":"hi"}}},
{"mark":{"type":"tick","orient":"horizontal","color":"#222","size":3,"thickness":0.7},"encoding":{"y":{"field":"lo","type":"quantitative","axis":null}}},
{"mark":{"type":"tick","orient":"horizontal","color":"#222","size":3,"thickness":0.7},"encoding":{"y":{"field":"hi","type":"quantitative","axis":null}}}]},
{"mark":{"type":"point","shape":"circle","filled":false,"size":12,"color":"black","strokeWidth":0.7},"encoding":{"y":{"field":"obs","type":"quantitative","axis":null}}}]},
{"width":77,"height":89,"transform":[{"filter":"datum.p==='C4'"}],"resolve":{"axis":{"x":"independent","y":"independent"}},
"encoding":{"x":{"field":"x","type":"quantitative","scale":{"type":"log","domain":[0.158,1.047],"nice":false},"axis":null}},
"layer":[
{"mark":{"type":"line","color":"#aaaaaa","strokeWidth":1,"strokeDash":[4,1.5]},"encoding":{"x":{"field":"x","type":"quantitative","axis":{"values":[1],"title":null,"labelExpr":"'10⁰'"}},"y":{"field":"m1","type":"quantitative","scale":{"domain":[-5,490],"nice":false,"zero":false},"axis":{"values":[0,100,200,300,400],"title":null}}}},
{"mark":{"type":"line","color":"black","strokeWidth":2,"strokeDash":[3,2]},"encoding":{"x":{"field":"x","type":"quantitative","axis":{"orient":"top","values":[0.2,0.3,0.4,0.5,0.6,0.7,0.8,0.9,1],"labels":false,"title":null}},"y":{"field":"m2","type":"quantitative","axis":{"orient":"right","values":[0,100,200,300,400],"labels":false,"title":null}}}},
{"transform":[{"filter":"isValid(datum.lo)"}],"layer":[
{"mark":{"type":"rule","color":"#222","strokeWidth":0.7},"encoding":{"y":{"field":"lo","type":"quantitative","axis":null},"y2":{"field":"hi"}}},
{"mark":{"type":"tick","orient":"horizontal","color":"#222","size":3,"thickness":0.7},"encoding":{"y":{"field":"lo","type":"quantitative","axis":null}}},
{"mark":{"type":"tick","orient":"horizontal","color":"#222","size":3,"thickness":0.7},"encoding":{"y":{"field":"hi","type":"quantitative","axis":null}}}]},
{"mark":{"type":"point","shape":"circle","filled":false,"size":12,"color":"black","strokeWidth":0.7},"encoding":{"y":{"field":"obs","type":"quantitative","axis":null}}}]},
{"width":74,"height":89,"transform":[{"filter":"datum.p==='C5'"}],"resolve":{"axis":{"x":"independent","y":"independent"}},
"encoding":{"x":{"field":"x","type":"quantitative","scale":{"domain":[-6,33],"nice":false,"zero":false},"axis":null}},
"layer":[
{"mark":{"type":"line","color":"#aaaaaa","strokeWidth":1,"strokeDash":[4,1.5]},"encoding":{"x":{"field":"x","type":"quantitative","axis":{"values":[0,10,20,30],"title":null}},"y":{"field":"m1","type":"quantitative","scale":{"domain":[-4,198],"nice":false,"zero":false},"axis":{"values":[0,50,100,150],"title":null}}}},
{"mark":{"type":"line","color":"black","strokeWidth":2,"strokeDash":[3,2]},"encoding":{"x":{"field":"x","type":"quantitative","axis":{"orient":"top","values":[0,10,20,30],"labels":false,"title":null}},"y":{"field":"m2","type":"quantitative","axis":{"orient":"right","values":[0,50,100,150],"labels":false,"title":null}}}},
{"transform":[{"filter":"isValid(datum.lo)"}],"layer":[
{"mark":{"type":"rule","color":"#222","strokeWidth":0.7},"encoding":{"y":{"field":"lo","type":"quantitative","axis":null},"y2":{"field":"hi"}}},
{"mark":{"type":"tick","orient":"horizontal","color":"#222","size":3,"thickness":0.7},"encoding":{"y":{"field":"lo","type":"quantitative","axis":null}}},
{"mark":{"type":"tick","orient":"horizontal","color":"#222","size":3,"thickness":0.7},"encoding":{"y":{"field":"hi","type":"quantitative","axis":null}}}]},
{"mark":{"type":"point","shape":"circle","filled":false,"size":12,"color":"black","strokeWidth":0.7},"encoding":{"y":{"field":"obs","type":"quantitative","axis":null}}}]},

{"title":{"text":"D."},"width":75,"height":89,"transform":[{"filter":"datum.p==='D1'"}],"resolve":{"axis":{"x":"independent","y":"independent"}},
"encoding":{"x":{"field":"x","type":"quantitative","scale":{"domain":[-10,330],"nice":false,"zero":false},"axis":null}},
"layer":[
{"mark":{"type":"line","color":"#aaaaaa","strokeWidth":1,"strokeDash":[4,1.5]},"encoding":{"x":{"field":"x","type":"quantitative","axis":{"values":[0,90,180,270],"title":"Orientation (deg)"}},"y":{"field":"m1","type":"quantitative","scale":{"domain":[-5,500],"nice":false,"zero":false},"axis":{"values":[0,100,200,300,400],"title":"Response (ps)"}}}},
{"mark":{"type":"line","color":"black","strokeWidth":2,"strokeDash":[3,2]},"encoding":{"x":{"field":"x","type":"quantitative","axis":{"orient":"top","values":[0,90,180,270],"labels":false,"title":null}},"y":{"field":"m2","type":"quantitative","axis":{"orient":"right","values":[0,100,200,300,400],"labels":false,"title":null}}}},
{"transform":[{"filter":"isValid(datum.lo)"}],"layer":[
{"mark":{"type":"rule","color":"#222","strokeWidth":0.7},"encoding":{"y":{"field":"lo","type":"quantitative","axis":null},"y2":{"field":"hi"}}},
{"mark":{"type":"tick","orient":"horizontal","color":"#222","size":3,"thickness":0.7},"encoding":{"y":{"field":"lo","type":"quantitative","axis":null}}},
{"mark":{"type":"tick","orient":"horizontal","color":"#222","size":3,"thickness":0.7},"encoding":{"y":{"field":"hi","type":"quantitative","axis":null}}}]},
{"mark":{"type":"point","shape":"circle","filled":false,"size":12,"color":"black","strokeWidth":0.7},"encoding":{"y":{"field":"obs","type":"quantitative","axis":null}}}]},
{"width":85,"height":89,"transform":[{"filter":"datum.p==='D2'"}],"resolve":{"axis":{"x":"independent","y":"independent"}},
"encoding":{"x":{"field":"x","type":"quantitative","scale":{"type":"log","domain":[0.063,13],"nice":false},"axis":null}},
"layer":[
{"mark":{"type":"line","color":"#aaaaaa","strokeWidth":1,"strokeDash":[4,1.5]},"encoding":{"x":{"field":"x","type":"quantitative","axis":{"values":[0.1,1,10],"title":"Spatial Frequency (c/deg)","labelExpr":"'10' + replace(replace(replace(replace('' + round(log(datum.value)/LN10), '-', '⁻'), '0', '⁰'), '1', '¹'), '2', '²')"}},"y":{"field":"m1","type":"quantitative","scale":{"domain":[-5,305],"nice":false,"zero":false},"axis":{"values":[0,100,200],"title":null}}}},
{"mark":{"type":"line","color":"black","strokeWidth":2,"strokeDash":[3,2]},"encoding":{"x":{"field":"x","type":"quantitative","axis":{"orient":"top","values":[0.1,1,10],"labels":false,"title":null}},"y":{"field":"m2","type":"quantitative","axis":{"orient":"right","values":[0,100,200],"labels":false,"title":null}}}},
{"transform":[{"filter":"isValid(datum.lo)"}],"layer":[
{"mark":{"type":"rule","color":"#222","strokeWidth":0.7},"encoding":{"y":{"field":"lo","type":"quantitative","axis":null},"y2":{"field":"hi"}}},
{"mark":{"type":"tick","orient":"horizontal","color":"#222","size":3,"thickness":0.7},"encoding":{"y":{"field":"lo","type":"quantitative","axis":null}}},
{"mark":{"type":"tick","orient":"horizontal","color":"#222","size":3,"thickness":0.7},"encoding":{"y":{"field":"hi","type":"quantitative","axis":null}}}]},
{"mark":{"type":"point","shape":"circle","filled":false,"size":12,"color":"black","strokeWidth":0.7},"encoding":{"y":{"field":"obs","type":"quantitative","axis":null}}}]},
{"width":75,"height":89,"transform":[{"filter":"datum.p==='D3'"}],"resolve":{"axis":{"x":"independent","y":"independent"}},
"encoding":{"x":{"field":"x","type":"quantitative","scale":{"domain":[-0.2,4.5],"nice":false,"zero":false},"axis":null}},
"layer":[
{"mark":{"type":"line","color":"#aaaaaa","strokeWidth":1,"strokeDash":[4,1.5]},"encoding":{"x":{"field":"x","type":"quantitative","axis":{"values":[0,1,2,3,4],"title":"Stimulus Diameter (deg)"}},"y":{"field":"m1","type":"quantitative","scale":{"domain":[-10,610],"nice":false,"zero":false},"axis":{"values":[0,100,300,500],"title":null}}}},
{"mark":{"type":"line","color":"black","strokeWidth":2,"strokeDash":[3,2]},"encoding":{"x":{"field":"x","type":"quantitative","axis":{"orient":"top","values":[0,1,2,3,4],"labels":false,"title":null}},"y":{"field":"m2","type":"quantitative","axis":{"orient":"right","values":[0,100,300,500],"labels":false,"title":null}}}},
{"transform":[{"filter":"isValid(datum.lo)"}],"layer":[
{"mark":{"type":"rule","color":"#222","strokeWidth":0.7},"encoding":{"y":{"field":"lo","type":"quantitative","axis":null},"y2":{"field":"hi"}}},
{"mark":{"type":"tick","orient":"horizontal","color":"#222","size":3,"thickness":0.7},"encoding":{"y":{"field":"lo","type":"quantitative","axis":null}}},
{"mark":{"type":"tick","orient":"horizontal","color":"#222","size":3,"thickness":0.7},"encoding":{"y":{"field":"hi","type":"quantitative","axis":null}}}]},
{"mark":{"type":"point","shape":"circle","filled":false,"size":12,"color":"black","strokeWidth":0.7},"encoding":{"y":{"field":"obs","type":"quantitative","axis":null}}}]},
{"width":77,"height":89,"transform":[{"filter":"datum.p==='D4'"}],"resolve":{"axis":{"x":"independent","y":"independent"}},
"encoding":{"x":{"field":"x","type":"quantitative","scale":{"type":"log","domain":[0.158,1.047],"nice":false},"axis":null}},
"layer":[
{"mark":{"type":"line","color":"#aaaaaa","strokeWidth":1,"strokeDash":[4,1.5]},"encoding":{"x":{"field":"x","type":"quantitative","axis":{"values":[1],"title":"Stimulus Contrast (Michelson)","labelExpr":"'10⁰'"}},"y":{"field":"m1","type":"quantitative","scale":{"domain":[-5,400],"nice":false,"zero":false},"axis":{"values":[0,100,200,300],"title":null}}}},
{"mark":{"type":"line","color":"black","strokeWidth":2,"strokeDash":[3,2]},"encoding":{"x":{"field":"x","type":"quantitative","axis":{"orient":"top","values":[0.2,0.3,0.4,0.5,0.6,0.7,0.8,0.9,1],"labels":false,"title":null}},"y":{"field":"m2","type":"quantitative","axis":{"orient":"right","values":[0,100,200,300],"labels":false,"title":null}}}},
{"transform":[{"filter":"isValid(datum.lo)"}],"layer":[
{"mark":{"type":"rule","color":"#222","strokeWidth":0.7},"encoding":{"y":{"field":"lo","type":"quantitative","axis":null},"y2":{"field":"hi"}}},
{"mark":{"type":"tick","orient":"horizontal","color":"#222","size":3,"thickness":0.7},"encoding":{"y":{"field":"lo","type":"quantitative","axis":null}}},
{"mark":{"type":"tick","orient":"horizontal","color":"#222","size":3,"thickness":0.7},"encoding":{"y":{"field":"hi","type":"quantitative","axis":null}}}]},
{"mark":{"type":"point","shape":"circle","filled":false,"size":12,"color":"black","strokeWidth":0.7},"encoding":{"y":{"field":"obs","type":"quantitative","axis":null}}}]},
{"width":74,"height":89,"transform":[{"filter":"datum.p==='D5'"}],"resolve":{"axis":{"x":"independent","y":"independent"}},
"encoding":{"x":{"field":"x","type":"quantitative","scale":{"domain":[-6,33],"nice":false,"zero":false},"axis":null}},
"layer":[
{"mark":{"type":"line","color":"#aaaaaa","strokeWidth":1,"strokeDash":[4,1.5]},"encoding":{"x":{"field":"x","type":"quantitative","axis":{"values":[0,10,20,30],"title":"Temporal Frequency (Hz)"}},"y":{"field":"m1","type":"quantitative","scale":{"domain":[-10,700],"nice":false,"zero":false},"axis":{"values":[0,200,400,600],"title":null}}}},
{"mark":{"type":"line","color":"black","strokeWidth":2,"strokeDash":[3,2]},"encoding":{"x":{"field":"x","type":"quantitative","axis":{"orient":"top","values":[0,10,20,30],"labels":false,"title":null}},"y":{"field":"m2","type":"quantitative","axis":{"orient":"right","values":[0,200,400,600],"labels":false,"title":null}}}},
{"transform":[{"filter":"isValid(datum.lo)"}],"layer":[
{"mark":{"type":"rule","color":"#222","strokeWidth":0.7},"encoding":{"y":{"field":"lo","type":"quantitative","axis":null},"y2":{"field":"hi"}}},
{"mark":{"type":"tick","orient":"horizontal","color":"#222","size":3,"thickness":0.7},"encoding":{"y":{"field":"lo","type":"quantitative","axis":null}}},
{"mark":{"type":"tick","orient":"horizontal","color":"#222","size":3,"thickness":0.7},"encoding":{"y":{"field":"hi","type":"quantitative","axis":null}}}]},
{"mark":{"type":"point","shape":"circle","filled":false,"size":12,"color":"black","strokeWidth":0.7},"encoding":{"y":{"field":"obs","type":"quantitative","axis":null}}}]}
]
}
